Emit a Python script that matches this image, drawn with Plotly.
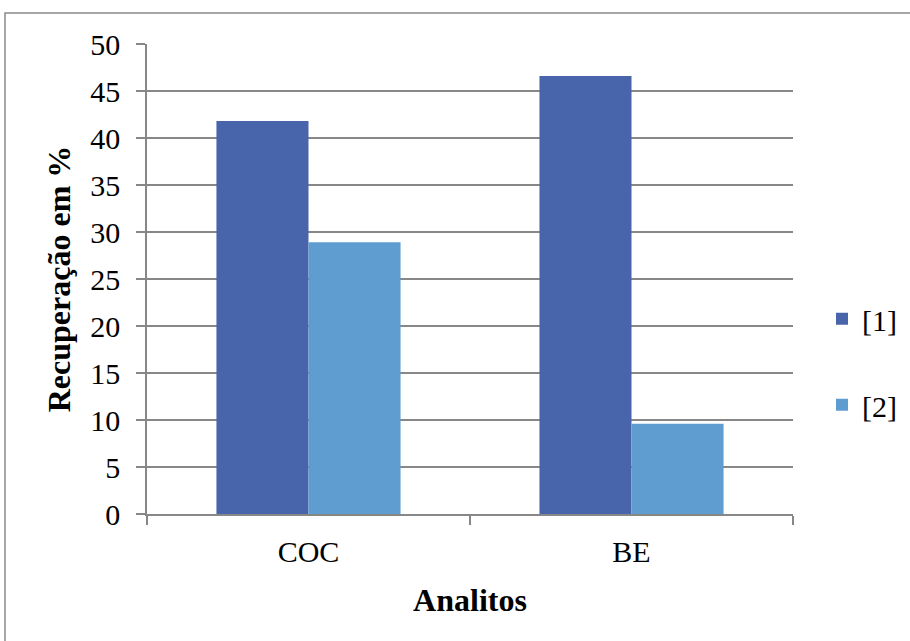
import plotly.graph_objects as go

# Recovery data per analyte
analitos = ["COC", "BE"]
serie_1 = [41.8, 46.6]
serie_2 = [28.9, 9.6]
nomes = ["[1]", "[2]"]
cores = ["#4865ac", "#5f9dd1"]

W, H = 910, 641
L, R, T, B = 147, 793, 44, 514.3  # plot area in pixels


def px_x(x):
    return (x - L) / (R - L)


def px_y(y):
    return (B - y) / (B - T)


FONT = "Liberation Serif"
GRID = "#878787"

fig = go.Figure()
fig.add_trace(go.Bar(x=analitos, y=serie_1, name=nomes[0], marker_color=cores[0],
                     marker_line_width=0, legendgroup="g1"))
fig.add_trace(go.Bar(x=analitos, y=serie_2, name=nomes[1], marker_color=cores[1],
                     marker_line_width=0, legendgroup="g2"))

fig.update_layout(
    width=W, height=H,
    margin=dict(l=L, r=W - R, t=T, b=H - B, autoexpand=False),
    paper_bgcolor="white", plot_bgcolor="white",
    barmode="group", bargap=0.43, bargroupgap=0,
    font=dict(family=FONT, size=30, color="black"),
    legend=dict(font=dict(family=FONT, size=30, color="black"),
                bgcolor="rgba(0,0,0,0)", xanchor="left", yanchor="middle",
                x=px_x(822), y=px_y(362), tracegroupgap=44, traceorder="grouped"),
    xaxis=dict(
        showline=True, linecolor=GRID, linewidth=1.5,
        ticks="outside", tickson="boundaries", ticklen=9, tickcolor=GRID, tickwidth=1.5,
        showgrid=False, ticklabelstandoff=10,
        tickfont=dict(family=FONT, size=30, color="black"),
        title=dict(text="<b>Analitos</b>", font=dict(family=FONT, size=32, color="black"),
                   standoff=22),
    ),
    yaxis=dict(
        range=[0, 50], dtick=5, tick0=0,
        showline=True, linecolor=GRID, linewidth=1.5,
        ticks="outside", ticklen=9, tickcolor=GRID, tickwidth=1.5,
        showgrid=True, gridcolor=GRID, gridwidth=1.5, zeroline=False,
        ticklabelstandoff=10,
        tickfont=dict(family=FONT, size=30, color="black"),
        title=dict(text="<b>Recuperação em %</b>", font=dict(family=FONT, size=32, color="black"),
                   standoff=10),
    ),
    shapes=[dict(type="rect", xref="paper", yref="paper",
                 x0=px_x(5), x1=px_x(930), y0=px_y(660), y1=px_y(13),
                 line=dict(color="#8a8a8a", width=1.5), fillcolor="rgba(0,0,0,0)",
                 layer="below")],
)

fig.write_html("out.html")
